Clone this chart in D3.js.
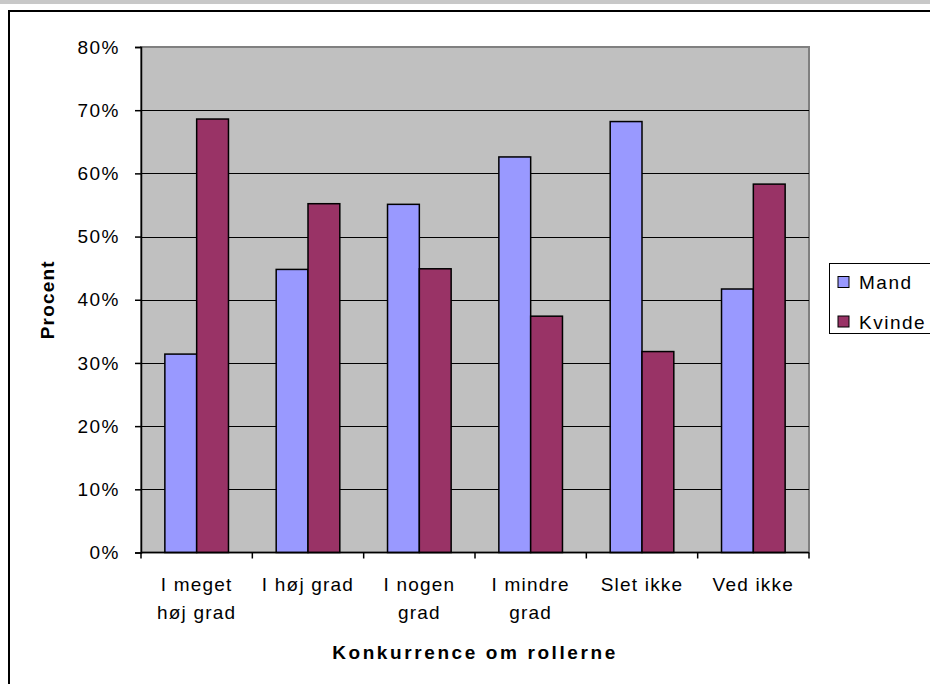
<!DOCTYPE html>
<html>
<head>
<meta charset="utf-8">
<script src="https://cdn.jsdelivr.net/npm/d3@7"></script>
<style>
  html, body { margin: 0; padding: 0; background: #fff; }
  svg { display: block; }
  text { font-family: "Liberation Sans", Arial, sans-serif; fill: #000; }
</style>
</head>
<body>
<svg id="chart" width="930" height="684"></svg>
<script>
// Categories (each label split onto lines as drawn under the axis)
const categories = ["I meget høj grad", "I høj grad", "I nogen grad", "I mindre grad", "Slet ikke", "Ved ikke"];
const categoryLines = [["I meget", "høj grad"], ["I høj grad"], ["I nogen", "grad"], ["I mindre", "grad"], ["Slet ikke"], ["Ved ikke"]];

// Series values (share of respondents)
const seriesNames = ["Mand", "Kvinde"];
const mandValues = [0.314, 0.448, 0.551, 0.626, 0.682, 0.417];
const kvindeValues = [0.686, 0.552, 0.449, 0.374, 0.318, 0.583];
const seriesColors = ["#9999ff", "#993366"];

// Axis ticks
const yTicks = [0, 0.1, 0.2, 0.3, 0.4, 0.5, 0.6, 0.7, 0.8];

const xTitle = "Konkurrence om rollerne";
const yTitle = "Procent";

const svg = d3.select("#chart");

// Strip along the top edge and the chart frame
svg.append("rect").attr("x", 0).attr("y", 0).attr("width", 930).attr("height", 4).attr("fill", "#c8c8c8");
svg.append("rect").attr("x", 9).attr("y", 11).attr("width", 940).attr("height", 700)
  .attr("fill", "#fff").attr("stroke", "#000").attr("stroke-width", 2);

const plot = { left: 141, right: 809, top: 47, bottom: 552.5 };

const x = d3.scaleBand().domain(categories).range([plot.left, plot.right]).padding(0);
const xs = d3.scaleBand().domain(seriesNames).range([0, x.bandwidth()]).paddingInner(0).paddingOuter(0.75);
const y = d3.scaleLinear().domain([0, 0.8]).range([plot.bottom, plot.top]);

// Plot background
svg.append("rect")
  .attr("x", plot.left).attr("y", plot.top)
  .attr("width", plot.right - plot.left).attr("height", plot.bottom - plot.top)
  .attr("fill", "#c0c0c0").attr("stroke", "#808080").attr("stroke-width", 2);

// Gridlines
svg.append("g").selectAll("line")
  .data(yTicks.filter(t => t > 0 && t < 0.8))
  .join("line")
  .attr("x1", plot.left).attr("x2", plot.right)
  .attr("y1", d => Math.round(y(d)) + 0.5).attr("y2", d => Math.round(y(d)) + 0.5)
  .attr("stroke", "#000").attr("stroke-width", 1);

// Bars
const series = [mandValues, kvindeValues];
const barData = [];
categories.forEach((c, i) => {
  seriesNames.forEach((s, j) => barData.push({ cat: c, name: s, value: series[j][i], color: seriesColors[j] }));
});
svg.append("g").selectAll("rect")
  .data(barData)
  .join("rect")
  .attr("x", d => x(d.cat) + xs(d.name))
  .attr("y", d => y(d.value))
  .attr("width", xs.bandwidth())
  .attr("height", d => y(0) - y(d.value))
  .attr("fill", d => d.color)
  .attr("stroke", "#000").attr("stroke-width", 1.5);

// Y axis
const yAxis = d3.axisLeft(y).tickValues(yTicks).tickFormat(d3.format(".0%")).tickSize(6).tickPadding(15);
const gy = svg.append("g").attr("transform", `translate(${plot.left},0)`).call(yAxis);
gy.select(".domain").attr("stroke", "#000").attr("stroke-width", 1.5);
gy.selectAll(".tick line").attr("stroke", "#000").attr("stroke-width", 1.5);
gy.selectAll(".tick text").attr("font-size", 19).attr("letter-spacing", 1.5)
  .attr("font-family", "'Liberation Sans', Arial, sans-serif").attr("fill", "#000");

// X axis baseline and tick marks at category boundaries
const xBounds = categories.map(c => x(c)).concat([plot.right]);
svg.append("line").attr("x1", plot.left).attr("x2", plot.right)
  .attr("y1", plot.bottom).attr("y2", plot.bottom).attr("stroke", "#000").attr("stroke-width", 1.5);
svg.append("g").selectAll("line").data(xBounds).join("line")
  .attr("x1", d => d).attr("x2", d => d)
  .attr("y1", plot.bottom).attr("y2", plot.bottom + 6)
  .attr("stroke", "#000").attr("stroke-width", 1.5);

// Category labels
const labels = svg.append("g").selectAll("text")
  .data(categories)
  .join("text")
  .attr("text-anchor", "middle")
  .attr("font-size", 19)
  .attr("letter-spacing", 1.2)
  .attr("x", d => x(d) + x.bandwidth() / 2)
  .attr("y", 591);
labels.each(function (d, i) {
  d3.select(this).selectAll("tspan")
    .data(categoryLines[i])
    .join("tspan")
    .attr("x", x(d) + x.bandwidth() / 2)
    .attr("dy", (t, k) => k === 0 ? 0 : 28)
    .text(t => t);
});

// Axis titles
svg.append("text")
  .attr("x", (plot.left + plot.right) / 2).attr("y", 659)
  .attr("text-anchor", "middle").attr("font-size", 19).attr("font-weight", "bold")
  .attr("letter-spacing", 2.6)
  .text(xTitle);
svg.append("text")
  .attr("transform", `translate(54,${(plot.top + plot.bottom) / 2}) rotate(-90)`)
  .attr("text-anchor", "middle").attr("font-size", 19).attr("font-weight", "bold")
  .attr("letter-spacing", 1.2)
  .text(yTitle);

// Legend
const legend = svg.append("g");
legend.append("rect").attr("x", 829.5).attr("y", 263.5).attr("width", 120).attr("height", 70)
  .attr("fill", "#fff").attr("stroke", "#000").attr("stroke-width", 1);
const items = legend.selectAll("g.item").data(seriesNames).join("g").attr("class", "item")
  .attr("transform", (d, i) => `translate(838,${282 + i * 39.5})`);
items.append("rect").attr("x", 0).attr("y", -5.5).attr("width", 11).attr("height", 11)
  .attr("fill", (d, i) => seriesColors[i]).attr("stroke", "#000").attr("stroke-width", 1);
items.append("text").attr("x", 21).attr("y", 7).attr("font-size", 19).attr("letter-spacing", 1.5)
  .text(d => d);
</script>
</body>
</html>
